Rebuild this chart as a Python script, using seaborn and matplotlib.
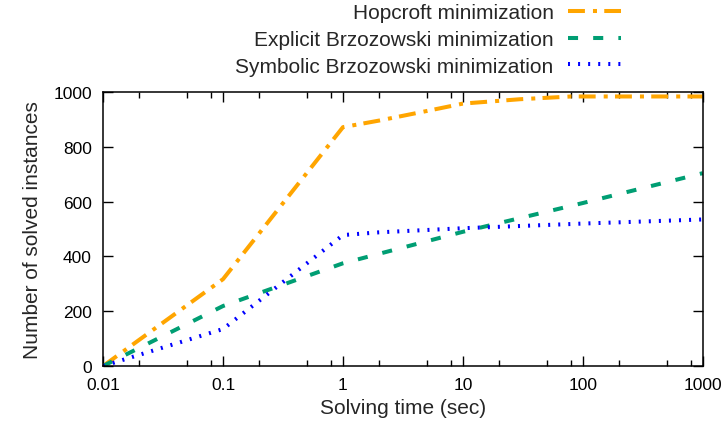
import numpy as np
import pandas as pd
import matplotlib
matplotlib.use("Agg")
import matplotlib.pyplot as plt
import matplotlib.ticker as mticker
import seaborn as sns

# Data
hop_time = [0.01, 0.1, 1, 2, 5, 10, 30, 80, 1000]
hop_solved = [0, 317, 872, 896, 931, 958, 974, 984, 984]

exp_time = [0.01, 0.1, 1, 10, 100, 1000]
exp_solved = [0, 219, 375, 490, 595, 704]

sym_time = [0.01, 0.1, 1, 2, 10, 100, 1000]
sym_solved = [0, 135, 478, 488, 503, 520, 535]

series_names = ["Hopcroft minimization",
                "Explicit Brzozowski minimization",
                "Symbolic Brzozowski minimization"]
series_colors = ["#FFA500", "#009E73", "#0000FF"]
series_dashes = [(4.2, 2.0, 1.0, 1.8), (2.5, 3.75), (0.5, 2.0)]

sns.set_theme(style="ticks")
plt.rcParams['font.family'] = ['Liberation Sans', 'DejaVu Sans']

fig = plt.figure(figsize=(7.26, 4.31), dpi=100)
ax = fig.add_axes([0.142, 0.1485, 0.826, 0.6355])

all_data = [(hop_time, hop_solved), (exp_time, exp_solved), (sym_time, sym_solved)]
for (t, s), name, col, dash in zip(all_data, series_names, series_colors, series_dashes):
    df = pd.DataFrame({"time": t, "solved": s})
    sns.lineplot(data=df, x="time", y="solved", ax=ax, color=col, linewidth=2.9,
                 label=name, dashes=False)
    ax.lines[-1].set_dashes(dash)
    ax.lines[-1].set_dash_capstyle("butt")

ax.set_xscale("log")
ax.set_xlim(0.01, 1000)
ax.set_ylim(0, 1000)
ax.xaxis.set_major_locator(mticker.FixedLocator([0.01, 0.1, 1, 10, 100, 1000]))
ax.xaxis.set_major_formatter(mticker.FixedFormatter(["0.01", "0.1", "1", "10", "100", "1000"]))
ax.xaxis.set_minor_locator(mticker.LogLocator(base=10, subs=[2, 5, 8]))
ax.xaxis.set_minor_formatter(mticker.NullFormatter())
ax.yaxis.set_major_locator(mticker.MultipleLocator(200))

ax.tick_params(which="both", direction="in", top=True, right=True, colors="black",
               labelsize=12.5, pad=8)
ax.tick_params(which="major", length=7, width=1)
ax.tick_params(which="minor", length=4, width=1)
for sp in ax.spines.values():
    sp.set_color("black")
    sp.set_linewidth(1.1)

ax.set_xlabel("Solving time (sec)", fontsize=15, labelpad=4)
ax.set_ylabel("Number of solved instances", fontsize=15, labelpad=8)

ax.legend(loc="upper right", bbox_to_anchor=(0.856, 0.99), bbox_transform=fig.transFigure,
          frameon=False, markerfirst=False, fontsize=15, handlelength=2.55,
          handletextpad=0.7, labelspacing=0.37, borderpad=0, borderaxespad=0)

fig.savefig("out.png", dpi=100)
